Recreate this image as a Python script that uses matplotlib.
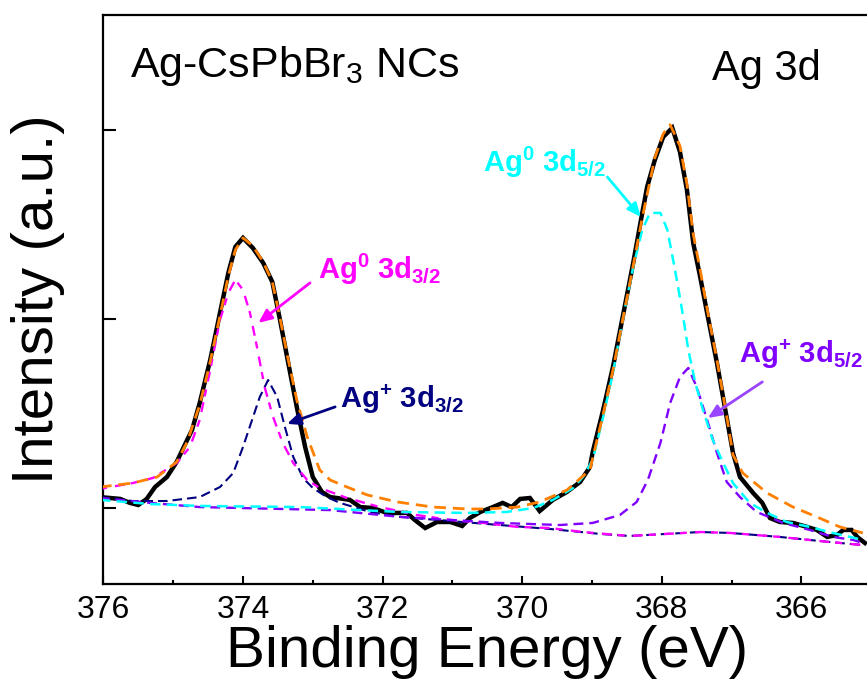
import matplotlib
matplotlib.use("Agg")
import matplotlib.pyplot as plt
from matplotlib.ticker import MultipleLocator

plt.rcParams['font.family'] = ['Liberation Sans', 'DejaVu Sans']
plt.rcParams['mathtext.fontset'] = 'custom'
plt.rcParams['mathtext.rm'] = 'Liberation Sans'
plt.rcParams['mathtext.it'] = 'Liberation Sans:italic'
plt.rcParams['mathtext.bf'] = 'Liberation Sans:bold'

# ---- measured Ag 3d spectrum (binding energy in eV, intensity in kcounts) ----
be_raw = [376.05, 375.76, 375.62, 375.50, 375.38, 375.26, 375.09, 374.95, 374.80, 374.73,
          374.62, 374.47, 374.33, 374.21, 374.11, 374.00, 373.86, 373.71, 373.58, 373.47,
          373.36, 373.23, 373.11, 373.00, 372.87, 372.75, 372.47, 372.32, 372.14, 371.94,
          371.75, 371.65, 371.54, 371.39, 371.22, 371.03, 370.86, 370.75, 370.60, 370.42,
          370.28, 370.15, 370.03, 369.89, 369.75, 369.56, 369.36, 369.17, 369.03, 368.99,
          368.84, 368.70, 368.56, 368.41, 368.28, 368.21, 368.10, 367.98, 367.85, 367.74,
          367.64, 367.55, 367.45, 367.34, 367.21, 367.09, 366.98, 366.88, 366.69, 366.56,
          366.45, 366.31, 366.12, 365.92, 365.78, 365.63, 365.49, 365.40, 365.28, 365.20,
          365.09]
int_raw = [10.58, 10.48, 10.27, 10.16, 10.48, 11.11, 11.64, 12.44, 13.60, 14.13,
           15.56, 17.83, 20.32, 22.44, 23.81, 24.29, 23.76, 22.96, 21.96, 19.95,
           17.83, 15.35, 13.23, 11.64, 10.85, 10.58, 10.43, 10.05, 10.00, 9.74,
           9.74, 9.74, 9.37, 8.94, 9.26, 9.26, 9.05, 9.47, 9.79, 10.05,
           10.27, 10.05, 10.48, 10.53, 9.84, 10.43, 10.85, 11.38, 12.17, 12.96,
           15.19, 17.46, 20.11, 22.96, 25.61, 26.99, 28.41, 29.63, 30.11, 28.84,
           26.83, 24.02, 22.22, 20.11, 17.67, 15.19, 12.91, 11.64, 10.79, 10.27,
           9.47, 9.26, 9.21, 9.00, 8.84, 8.47, 8.57, 8.84, 8.84, 8.47,
           8.15]

# ---- fitted envelope ----
be_env = [376.05, 375.58, 375.23, 374.95, 374.80, 374.62, 374.47, 374.33, 374.21, 374.11,
          374.00, 373.86, 373.71, 373.58, 373.47, 373.36, 373.23, 373.08, 372.90, 372.75,
          372.51, 372.22, 371.79, 371.28, 370.79, 370.50, 370.07, 369.75, 369.36, 369.03,
          368.84, 368.70, 368.56, 368.41, 368.28, 368.10, 367.98, 367.88, 367.74, 367.64,
          367.55, 367.45, 367.34, 367.21, 367.09, 366.98, 366.84, 366.49, 366.12, 365.78,
          365.45, 365.12]
int_env = [11.11, 11.32, 11.64, 12.44, 13.49, 15.45, 17.73, 20.16, 22.28, 23.65,
           24.29, 23.87, 23.02, 21.96, 20.05, 17.99, 15.72, 13.76, 12.01, 11.48,
           11.11, 10.69, 10.32, 10.05, 9.95, 9.95, 10.05, 10.32, 10.95, 12.01,
           14.97, 17.30, 19.95, 22.81, 25.35, 28.52, 29.79, 30.27, 29.16, 27.14,
           24.50, 22.59, 20.32, 17.83, 15.29, 12.81, 11.85, 10.79, 10.05, 9.53,
           9.00, 8.68]

# ---- Ag0 3d3/2 component (with background) ----
be_ag0_32 = [376.05, 375.58, 375.29, 374.95, 374.76, 374.62, 374.47, 374.33, 374.21, 374.11,
             374.00, 373.90, 373.80, 373.69, 373.57, 373.43, 373.28, 373.08, 372.90, 372.51,
             372.04, 371.51, 371.03, 370.56, 370.07, 369.60, 369.13, 368.46, 367.45, 367.02,
             366.31, 365.59, 365.12]
int_ag0_32 = [11.01, 11.32, 11.59, 12.38, 13.23, 14.66, 17.30, 19.95, 21.38, 22.07,
              21.54, 20.32, 18.52, 16.40, 14.82, 13.44, 12.38, 11.48, 11.06, 10.53,
              10.05, 9.63, 9.37, 9.21, 9.00, 8.94, 8.73, 8.52, 8.73, 8.68,
              8.47, 8.20, 8.04]

# ---- Ag+ 3d3/2 component (with background) ----
be_agp_32 = [376.05, 375.58, 375.09, 374.62, 374.33, 374.14, 374.00, 373.87, 373.76, 373.64,
             373.51, 373.40, 373.28, 373.14, 373.00, 372.80, 372.61, 372.18, 371.75, 371.03,
             370.32, 369.60, 368.89, 368.46, 367.45, 367.02, 366.31, 365.59, 365.12]
int_agp_32 = [10.58, 10.37, 10.37, 10.58, 11.11, 11.85, 13.23, 14.66, 15.87, 16.77,
              15.87, 14.29, 12.70, 11.59, 11.06, 10.58, 10.27, 9.79, 9.53, 9.31,
              9.10, 8.89, 8.63, 8.52, 8.73, 8.68, 8.47, 8.20, 8.04]

# ---- Ag0 3d5/2 component (with background) ----
be_ag0_52 = [376.05, 375.33, 374.62, 373.18, 372.04, 371.75, 370.79, 370.22, 369.84, 369.56,
             369.27, 369.13, 368.99, 368.84, 368.70, 368.56, 368.41, 368.28, 368.17, 368.02,
             367.92, 367.81, 367.71, 367.62, 367.52, 367.41, 367.27, 367.12, 366.98, 366.74,
             366.49, 366.21, 365.88, 365.55, 365.30, 365.12]
int_ag0_52 = [10.43, 10.21, 10.11, 10.05, 9.84, 9.79, 9.74, 9.79, 10.00, 10.43,
              11.06, 11.64, 12.54, 14.82, 17.15, 19.95, 22.75, 24.71, 25.61, 25.61,
              24.71, 22.59, 20.48, 18.36, 16.62, 15.19, 13.60, 12.38, 11.32, 10.27,
              9.74, 9.26, 9.00, 8.68, 8.47, 8.31]

# ---- Ag+ 3d5/2 component (with background) ----
be_agp_52 = [376.05, 375.33, 374.62, 372.75, 371.75, 371.03, 370.32, 369.46, 368.99, 368.60,
             368.36, 368.20, 368.02, 367.88, 367.74, 367.62, 367.50, 367.35, 367.21, 367.07,
             366.88, 366.64, 366.26, 365.88, 365.55, 365.26, 365.12]
int_agp_52 = [10.53, 10.27, 10.05, 9.89, 9.53, 9.37, 9.21, 9.10, 9.21, 9.63,
              10.32, 11.48, 13.44, 15.56, 16.93, 17.41, 16.40, 14.66, 12.91, 11.38,
              10.58, 9.79, 9.21, 8.84, 8.47, 8.31, 8.15]

x_ticks = [376, 374, 372, 370, 368, 366]
y_ticks = [10, 20, 30]

C_ORANGE = '#FF8000'
C_MAGENTA = '#FF00FF'
C_NAVY = '#000080'
C_CYAN = '#00FFFF'
C_PURPLE = '#8000FF'
C_PURPLE_ARROW = '#9A45FF'

fig = plt.figure(figsize=(8.67, 6.84), dpi=100)
ax = fig.add_axes([103.4 / 867, 100 / 684, 767.8 / 867, 569 / 684])

ax.plot(be_raw, int_raw, color='black', lw=3.2, solid_joinstyle='miter', zorder=2)
ax.plot(be_agp_32, int_agp_32, color=C_NAVY, lw=1.5, dashes=(4.6, 2.4), zorder=3)
l_m, = ax.plot(be_ag0_32, int_ag0_32, color=C_MAGENTA, lw=1.7, zorder=4)
l_m.set_dashes((3.0, 3.5, 4.2, 2.5))
ax.plot(be_agp_52, int_agp_52, color=C_PURPLE, lw=1.7, dashes=(4.2, 2.5), zorder=4)
ax.plot(be_ag0_52, int_ag0_52, color=C_CYAN, lw=1.8, dashes=(4.2, 2.5), zorder=5)
ax.plot(be_env, int_env, color=C_ORANGE, lw=2.0, dashes=(4.2, 2.5), zorder=6)

ax.set_xlim(376, 365)
ax.set_ylim(5.98, 36.08)
ax.set_xticks(x_ticks)
ax.xaxis.set_minor_locator(MultipleLocator(1))
ax.set_yticks(y_ticks)
ax.set_yticklabels([])
ax.tick_params(axis='x', which='major', direction='in', length=6, width=1.5,
               labelsize=23, pad=8)
ax.tick_params(axis='x', which='minor', direction='in', length=3, width=1.5)
ax.tick_params(axis='y', which='major', direction='in', length=9.5, width=1.5)
for side in ax.spines.values():
    side.set_linewidth(1.6)

ax.set_xlabel('Binding Energy (eV)', fontsize=42, labelpad=0)
ax.set_ylabel('Intensity (a.u.)', fontsize=42, labelpad=24)

ax.text(0.0346, 0.891, r'Ag-CsPbBr$_3$ NCs', transform=ax.transAxes,
        fontsize=31, va='baseline', ha='left')
ax.text(0.7927, 0.8858, 'Ag 3d', transform=ax.transAxes,
        fontsize=30, va='baseline', ha='left')

labels = [
    (r'$\mathbf{Ag^{0}\ 3d_{3/2}}$', (372.93, 22.12), (373.04, 21.91), (373.78, 19.79), C_MAGENTA, C_MAGENTA),
    (r'$\mathbf{Ag^{+}\ 3d_{3/2}}$', (372.61, 15.29), (372.68, 15.35), (373.37, 14.45), C_NAVY, C_NAVY),
    (r'$\mathbf{Ag^{0}\ 3d_{5/2}}$', (370.56, 27.78), (368.78, 27.51), (368.30, 25.40), C_CYAN, C_CYAN),
    (r'$\mathbf{Ag^{+}\ 3d_{5/2}}$', (366.90, 17.67), (366.56, 16.67), (367.34, 14.76), C_PURPLE, C_PURPLE_ARROW),
]
for txt, pos, tail, tip, tcol, acol in labels:
    ax.text(pos[0], pos[1], txt, color=tcol, fontsize=21, va='baseline', ha='left', zorder=8)
    ax.annotate('', xy=tip, xytext=tail,
                arrowprops=dict(arrowstyle='-|>,head_length=0.8,head_width=0.35',
                                color=acol, lw=2, shrinkA=0, shrinkB=0), zorder=8)

fig.savefig('out.png', dpi=100)
